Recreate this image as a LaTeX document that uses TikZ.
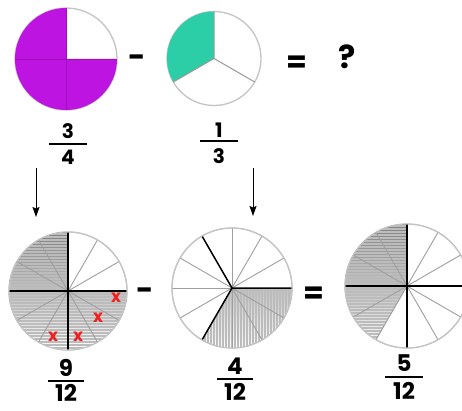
\documentclass[tikz,border=0pt]{standalone}
\usepackage{fontspec}
\setmainfont{Poppins}
\usetikzlibrary{arrows.meta,calc}
\definecolor{purp}{HTML}{BE14E1}
\definecolor{purpline}{HTML}{9C10BA}
\definecolor{tealf}{HTML}{2CCEA8}
\definecolor{rim}{HTML}{C4C4C4}
\definecolor{shade}{HTML}{9C9C9C}
\definecolor{stripe}{HTML}{BCBCBC}
\definecolor{xred}{HTML}{F02020}
\tikzset{
  rimline/.style={draw=rim, line width=1.3pt},
  thinspoke/.style={draw=gray!75, line width=0.9pt},
  thickspoke/.style={draw=black, line width=1.5pt},
  stripeline/.style={draw=stripe, line width=1.2pt},
  smalldig/.style={inner sep=0pt, font=\fontsize{20}{20}\selectfont\bfseries},
  bigdig/.style={inner sep=0pt, font=\fontsize{23}{23}\selectfont\bfseries},
  fbar/.style={line width=2.6pt, black},
  opsign/.style={inner sep=0pt, font=\fontsize{30}{30}\selectfont\bfseries},
  minussign/.style={inner sep=0pt, font=\fontsize{30}{30}\selectfont\bfseries},
  xmark/.style={inner sep=0pt, text=xred, font=\fontsize{17}{17}\selectfont\bfseries},
  downarrow/.style={line width=1pt, -{Stealth[length=10pt,width=7pt,inset=1.5pt]}}
}
\begin{document}
\begin{tikzpicture}[x=1pt,y=1pt]
\useasboundingbox[fill=white] (0,0) rectangle (462,410);
% ---------- top row ----------
\coordinate (t1) at (66,351);
\coordinate (t2) at (214,351.5);
% circle 3/4 purple
\draw[rimline] (t1) circle[radius=51];
\fill[purp] (t1) -- ++(90:51) arc[start angle=90,end angle=360,radius=51] -- cycle;
\draw[purpline, line width=0.9pt] (t1) -- ++(180:51) (t1) -- ++(0:51) (t1) -- ++(270:51) (t1) -- ++(90:51);
% circle 1/3 teal
\draw[rimline] (t2) circle[radius=47];
\fill[tealf] (t2) -- ++(90:47) arc[start angle=90,end angle=210,radius=47] -- cycle;
\draw[gray!80, line width=1pt] (t2) -- ++(90:47) (t2) -- ++(210:47) (t2) -- ++(330:47);
% signs
\node[minussign] (m1) at (137,349) {-};
\node[opsign] (e1) at (297,346) {=};
\node[opsign, font=\fontsize{32}{32}\selectfont\bfseries] (q) at (347,353) {?};
% fractions top
\node[smalldig] (n34) at (68,279) {3};
\draw[fbar] (49,266) -- (87,266);
\node[smalldig] (d34) at (68,253) {4};
\node[smalldig] (n13) at (219,280) {1};
\draw[fbar] (200,269) -- (238,269);
\node[smalldig] (d13) at (219,254) {3};
% arrows
\coordinate (a1s) at (36,242);
\coordinate (a1e) at (36,193);
\coordinate (a2s) at (253,242);
\coordinate (a2e) at (253,194);
\draw[downarrow] (a1s) -- (a1e);
\draw[downarrow] (a2s) -- (a2e);
% ---------- bottom row ----------
\coordinate (b1) at (68,119);
\coordinate (b2) at (232,122);
\coordinate (b3) at (407,124);
% 9/12
\draw[rimline] (b1) circle[radius=59];
\begin{scope}
  \clip (b1) -- ++(90:59) arc[start angle=90,end angle=360,radius=59] -- cycle;
  \fill[shade] (b1) circle[radius=60];
  \foreach \d in {-60,-57,...,60} \draw[stripeline] ($(b1)+(-60,\d)$) -- ++(120,0);
\end{scope}
\foreach \a in {30,60,120,150,210,240,300,330} \draw[thinspoke] (b1) -- ++(\a:59);
\draw[thickspoke] (b1) -- ++(0:59) (b1) -- ++(90:59) (b1) -- ++(180:59) (b1) -- ++(270:59);
\draw[rim, line width=1pt] (b1) circle[radius=59];
\node[xmark] (x1) at (116,112) {x};
\node[xmark] (x2) at (98,92) {x};
\node[xmark] (x3) at (78,73) {x};
\node[xmark] (x4) at (53,73) {x};
% 4/12
\draw[rimline] (b2) circle[radius=60];
\begin{scope}
  \clip (b2) -- ++(240:60) arc[start angle=240,end angle=360,radius=60] -- cycle;
  \fill[shade] (b2) circle[radius=61];
  \foreach \d in {-60,-57,...,60} \draw[stripeline] ($(b2)+(\d,-61)$) -- ++(0,122);
\end{scope}
\foreach \a in {30,60,90,150,180,210,270,300,330} \draw[thinspoke] (b2) -- ++(\a:60);
\draw[thickspoke] (b2) -- ++(0:60) (b2) -- ++(120:60) (b2) -- ++(240:60);
\draw[rim, line width=1pt] (b2) circle[radius=60];
% 5/12
\draw[rimline] (b3) circle[radius=62];
\begin{scope}
  \clip (b3) -- ++(90:62) arc[start angle=90,end angle=240,radius=62] -- cycle;
  \fill[shade] (b3) circle[radius=63];
  \foreach \d in {-63,-60,...,63} \draw[stripeline] ($(b3)+(-63,\d)$) -- ++(126,0);
\end{scope}
\foreach \a in {30,60,120,150,210,240,300,330} \draw[thinspoke] (b3) -- ++(\a:62);
\draw[thickspoke] (b3) -- ++(0:62) (b3) -- ++(90:62) (b3) -- ++(180:62) (b3) -- ++(270:62);
\draw[rim, line width=1pt] (b3) circle[radius=62];
% signs
\node[minussign] (m2) at (145,116) {-};
\node[opsign] (e2) at (314,115) {=};
% fractions bottom
\node[bigdig] (n912) at (66,42) {9};
\draw[fbar] (48,29) -- (84,29);
\node[bigdig] (d912) at (66,17) {12};
\node[bigdig] (n412) at (235,44) {4};
\draw[fbar] (217,31) -- (253,31);
\node[bigdig] (d412) at (235,18) {12};
\node[bigdig] (n512) at (404,47) {5};
\draw[fbar] (385,33) -- (423,33);
\node[bigdig] (d512) at (404,19) {12};
\end{tikzpicture}
\end{document}
